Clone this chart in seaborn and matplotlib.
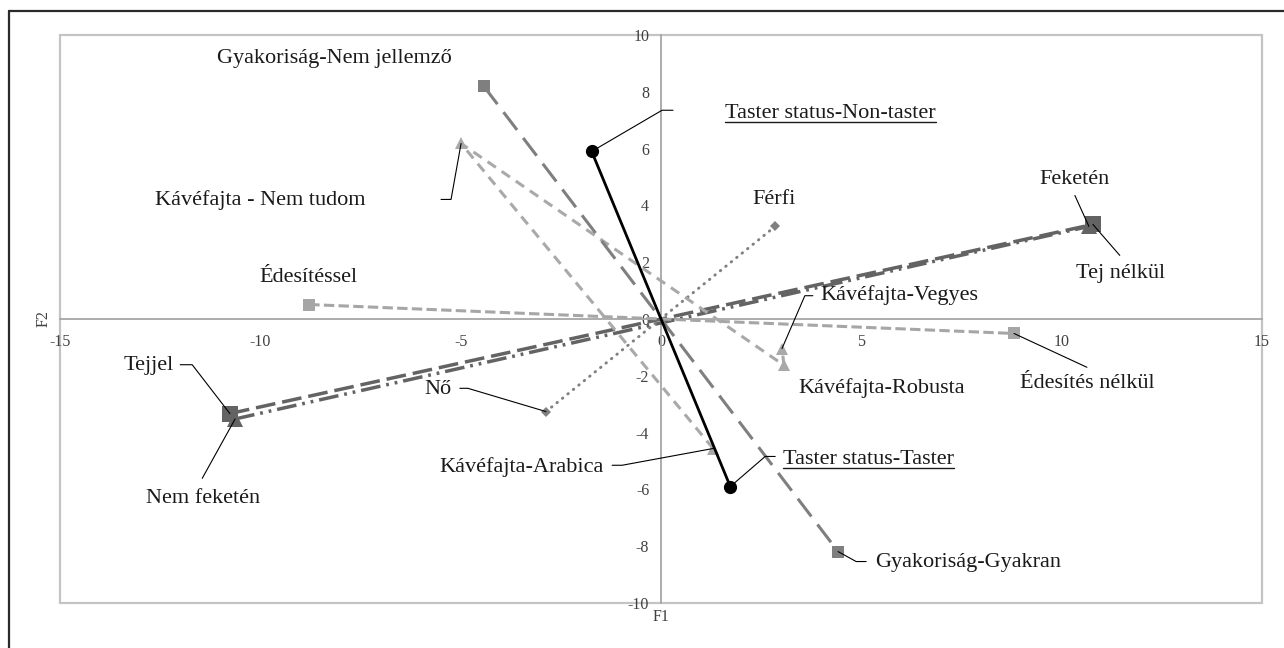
import matplotlib
matplotlib.use("Agg")
import matplotlib.pyplot as plt
from matplotlib.lines import Line2D
from matplotlib.patches import Rectangle
from matplotlib.ticker import FixedLocator, FuncFormatter
import numpy as np
import pandas as pd
import seaborn as sns

# ---- category coordinates on the first two factors (F1, F2) ----
gyakorisag_labels = ["Gyakoriság-Nem jellemző", "Gyakoriság-Gyakran"]
gyakorisag_f1 = [-4.42, 4.42]
gyakorisag_f2 = [8.19, -8.19]

taster_labels = ["Taster status-Non-taster", "Taster status-Taster"]
taster_f1 = [-1.73, 1.73]
taster_f2 = [5.90, -5.90]

kavefajta_labels = ["Kávéfajta-Arabica", "Kávéfajta - Nem tudom",
                    "Kávéfajta-Robusta", "Kávéfajta-Vegyes"]
kavefajta_f1 = [1.30, -4.99, 3.07, 3.02]
kavefajta_f2 = [-4.56, 6.18, -1.63, -1.04]

nem_labels = ["Férfi", "Nő"]
nem_f1 = [2.85, -2.87]
nem_f2 = [3.26, -3.26]

edesites_labels = ["Édesítéssel", "Édesítés nélkül"]
edesites_f1 = [-8.78, 8.81]
edesites_f2 = [0.51, -0.51]

tej_labels = ["Tejjel", "Tej nélkül"]
tej_f1 = [-10.76, 10.78]
tej_f2 = [-3.33, 3.33]

fekete_labels = ["Nem feketén", "Feketén"]
fekete_f1 = [-10.63, 10.68]
fekete_f2 = [-3.52, 3.26]

x_ticks = [-15, -10, -5, 0, 5, 10, 15]
y_ticks = [-10, -8, -6, -4, -2, 0, 2, 4, 6, 8, 10]

series = {
    "Tej": (tej_labels, tej_f1, tej_f2),
    "Fekete": (fekete_labels, fekete_f1, fekete_f2),
    "Édesítés": (edesites_labels, edesites_f1, edesites_f2),
    "Nem": (nem_labels, nem_f1, nem_f2),
    "Kávéfajta": (kavefajta_labels, kavefajta_f1, kavefajta_f2),
    "Gyakoriság": (gyakorisag_labels, gyakorisag_f1, gyakorisag_f2),
    "Taster": (taster_labels, taster_f1, taster_f2),
}

frames = []
for name, (labs, f1, f2) in series.items():
    frames.append(pd.DataFrame({"series": name, "label": labs, "F1": f1, "F2": f2}))
df = pd.concat(frames, ignore_index=True)

# ---- styles per series ----
styles = {
    "Tej": dict(color="#636363", linestyle=(0, (5.7, 2.0)), linewidth=2.5,
                marker="s", markersize=11.5),
    "Fekete": dict(color="#636363", linestyle=(0, (5.7, 1.7, 0.8, 1.7, 0.8, 1.7)),
                   linewidth=2.5, marker="^", markersize=12),
    "Édesítés": dict(color="#A6A6A6", linestyle=(0, (3.4, 1.4)), linewidth=2.2,
                     marker="s", markersize=8.4),
    "Nem": dict(color="#808080", linestyle=(0, (0.2, 2.2)), linewidth=2.1,
                marker="D", markersize=4.8, dash_capstyle="round"),
    "Kávéfajta": dict(color="#A9A9A9", linestyle=(0, (3.3, 2.3)), linewidth=2.2,
                      marker="^", markersize=9),
    "Gyakoriság": dict(color="#7F7F7F", linestyle=(0, (7.3, 3.3)), linewidth=2.2,
                       marker="s", markersize=8.6),
    "Taster": dict(color="#000000", linestyle="-", linewidth=2.0,
                   marker="o", markersize=9.5),
}

sns.set_theme(style="white")
plt.rcParams["font.family"] = ["Liberation Serif", "DejaVu Serif"]
plt.rcParams["axes.unicode_minus"] = False

W, H = 1284, 648
fig = plt.figure(figsize=(W / 100, H / 100), dpi=100)
fig.patch.set_facecolor("white")
ax = fig.add_axes([60 / W, (H - 603) / H, (1262 - 60) / W, (603 - 35) / H])
ax.set_facecolor("white")

for name in series:
    st = dict(styles[name])
    col = st["color"]
    sub = df[df["series"] == name]
    sns.lineplot(data=sub, x="F1", y="F2", sort=False, estimator=None, ax=ax,
                 legend=False, markeredgewidth=0, markeredgecolor=col,
                 markerfacecolor=col, zorder=3, **st)

ax.set_xlim(-15, 15)
ax.set_ylim(-10, 10)
ax.set_xlabel("")
ax.set_ylabel("")

# axes crossing at the origin
axis_col = "#A6A6A6"
for side in ("top", "right"):
    ax.spines[side].set_visible(False)
for side in ("left", "bottom"):
    ax.spines[side].set_position(("data", 0))
    ax.spines[side].set_color(axis_col)
    ax.spines[side].set_linewidth(1.3)
    ax.spines[side].set_zorder(1)

ax.add_patch(Rectangle((0, 0), 1, 1, transform=ax.transAxes, fill=False,
                       edgecolor="#C4C4C4", linewidth=1.6, clip_on=False, zorder=0))

ax.xaxis.set_major_locator(FixedLocator(x_ticks))
ax.yaxis.set_major_locator(FixedLocator(y_ticks))
fmt = FuncFormatter(lambda v, p: f"{v:g}")
ax.xaxis.set_major_formatter(fmt)
ax.yaxis.set_major_formatter(fmt)
ax.tick_params(direction="inout", length=8, width=1.0, color=axis_col,
               labelsize=11.5, labelcolor="#404040")
ax.tick_params(axis="x", pad=6.5)
ax.tick_params(axis="y", pad=4.5)
ax.grid(False)

ax.text(0.5, -0.025, "F1", transform=ax.transAxes, ha="center", va="center",
        fontsize=11.5, color="#404040")
ax.text(-0.014, 0.5, "F2", transform=ax.transAxes, ha="center", va="center",
        rotation=90, fontsize=11.5, color="#404040")

# ---- point labels ----
txt_col = "#1a1a1a"
fs = 16
label_pos = {
    "Gyakoriság-Nem jellemző": (-8.14, 9.19),
    "Kávéfajta - Nem tudom": (-10.01, 4.18),
    "Férfi": (2.82, 4.22),
    "Feketén": (10.33, 4.92),
    "Tej nélkül": (11.48, 1.61),
    "Édesítéssel": (-8.81, 1.47),
    "Kávéfajta-Vegyes": (5.96, 0.83),
    "Kávéfajta-Robusta": (5.51, -2.43),
    "Édesítés nélkül": (10.63, -2.27),
    "Tejjel": (-12.78, -1.63),
    "Nem feketén": (-11.43, -6.32),
    "Nő": (-5.57, -2.48),
    "Kávéfajta-Arabica": (-3.47, -5.22),
    "Gyakoriság-Gyakran": (7.66, -8.57),
}
for lab, (lx, ly) in label_pos.items():
    ax.text(lx, ly, lab, ha="center", va="center", fontsize=fs, color=txt_col,
            zorder=5)

# underlined labels (left aligned, baseline anchored)
under_pos = {
    "Taster status-Non-taster": (1.60, 7.07),
    "Taster status-Taster": (3.04, -5.12),
}
under_txt = []
for lab, (lx, ly) in under_pos.items():
    t = ax.text(lx, ly, lab, ha="left", va="baseline", fontsize=fs,
                color=txt_col, zorder=5)
    under_txt.append(t)

# ---- leader lines: (label, start of leader, arm direction, arm length px) ----
leaders = [
    ("Taster status-Non-taster", (0.30, 7.35), 180, 11),
    ("Kávéfajta - Nem tudom", (-5.49, 4.21), 0, 10),
    ("Feketén", (10.33, 4.35), None, 0),
    ("Tej nélkül", (11.45, 2.24), None, 0),
    ("Kávéfajta-Vegyes", (3.79, 0.82), 180, 8),
    ("Édesítés nélkül", (10.63, -1.70), None, 0),
    ("Tejjel", (-12.00, -1.61), 0, 12),
    ("Nem feketén", (-11.45, -5.61), None, 0),
    ("Nő", (-5.02, -2.44), 0, 8),
    ("Kávéfajta-Arabica", (-1.22, -5.15), 0, 10),
    ("Taster status-Taster", (2.85, -4.84), 180, 10),
    ("Gyakoriság-Gyakran", (5.12, -8.54), 180, 10),
]
point_of = df.set_index("label")[["F1", "F2"]]
for lab, start, ang, arm in leaders:
    px, py = point_of.loc[lab, "F1"], point_of.loc[lab, "F2"]
    if ang is None:
        cs = "arc3,rad=0"
    else:
        cs = f"arc,angleA={ang},armA={arm},angleB=0,armB=0,rad=0"
    ax.annotate("", xy=(px, py), xytext=start,
                arrowprops=dict(arrowstyle="-", color="black", lw=0.8,
                                shrinkA=0, shrinkB=0, connectionstyle=cs),
                zorder=4, annotation_clip=False)

# underline the taster labels
fig.canvas.draw()
renderer = fig.canvas.get_renderer()
inv = fig.transFigure.inverted()
for t in under_txt:
    bb = t.get_window_extent(renderer)
    bx, by = ax.transData.transform(t.get_position())
    y_line = by - 4
    p0 = inv.transform((bb.x0, y_line))
    p1 = inv.transform((bb.x1, y_line))
    fig.add_artist(Line2D([p0[0], p1[0]], [p0[1], p1[1]], color=txt_col,
                          lw=1.0, transform=fig.transFigure))

# outer chart border (left and top edges)
fig.add_artist(Line2D([8.5 / W, 8.5 / W], [0, 1 - 11 / H], color="#2a2a2a",
                      lw=1.6, transform=fig.transFigure))
fig.add_artist(Line2D([8.5 / W, 1], [1 - 11 / H, 1 - 11 / H], color="#2a2a2a",
                      lw=1.6, transform=fig.transFigure))

fig.savefig("out.png", dpi=100, facecolor="white")
